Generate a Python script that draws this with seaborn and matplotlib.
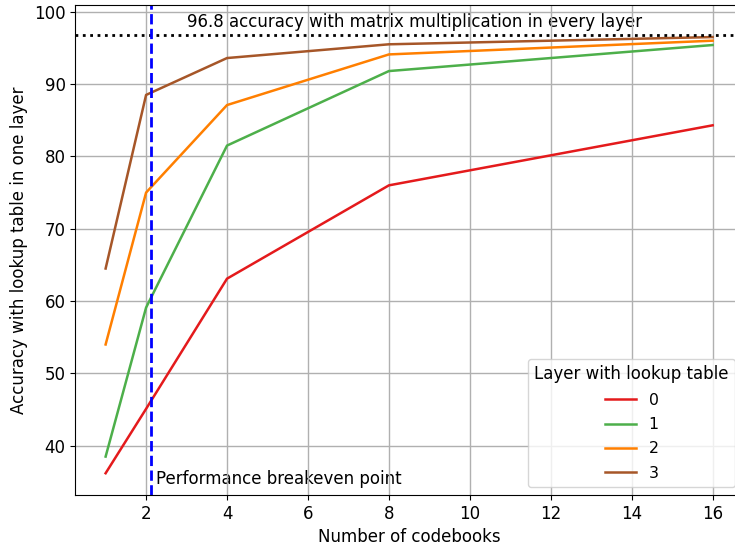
import matplotlib.pyplot as plt
import pandas as pd
import numpy as np
import seaborn as sns

# values
codebooks = [1, 2, 4, 8, 16]
layer0 = [36.2, 45.1, 63.1, 76.0, 84.3]
layer1 = [38.5, 59.1, 81.5, 91.8, 95.4]
layer2 = [54.0, 75.0, 87.1, 94.1, 96.0]
layer3 = [64.5, 88.5, 93.6, 95.5, 96.5]
layers = ["0", "1", "2", "3"]
baseline_acc = 96.8
breakeven = 2.12
colors = ["#e41a1c", "#4daf4a", "#ff7f00", "#a65628"]

df = pd.DataFrame({
    "codebooks": codebooks * 4,
    "accuracy": layer0 + layer1 + layer2 + layer3,
    "layer": [l for l in layers for _ in codebooks],
})

fig = plt.figure(figsize=(7.35, 5.46), dpi=100)
ax = fig.add_axes([0.1024, 0.0934, 0.9085, 0.8974])

sns.lineplot(data=df, x="codebooks", y="accuracy", hue="layer", palette=colors,
             linewidth=1.8, ax=ax)

ax.axhline(baseline_acc, color="black", linestyle=":", linewidth=2)
ax.axvline(breakeven, color="blue", linestyle="--", linewidth=2)
ax.text(3, 97.85, "96.8 accuracy with matrix multiplication in every layer",
        fontsize=12, va="baseline", zorder=1)
ax.text(2.25, 34.7, "Performance breakeven point", fontsize=12, va="baseline", zorder=1)

ax.set_xlim(0.25, 16.75)
ax.set_ylim(33.19, 100.93)
ax.set_xticks(np.arange(2, 17, 2))
ax.set_yticks(np.arange(40, 101, 10))
ax.tick_params(labelsize=12)
ax.grid(True, color="#b0b0b0", linewidth=1)
ax.set_xlabel("Number of codebooks", fontsize=12)
ax.set_ylabel("Accuracy with lookup table in one layer", fontsize=12)

ax.legend(title="Layer with lookup table", loc="lower right", fontsize=11.3,
          title_fontsize=12, labelspacing=0.6)

fig.savefig("out.png", dpi=100)
